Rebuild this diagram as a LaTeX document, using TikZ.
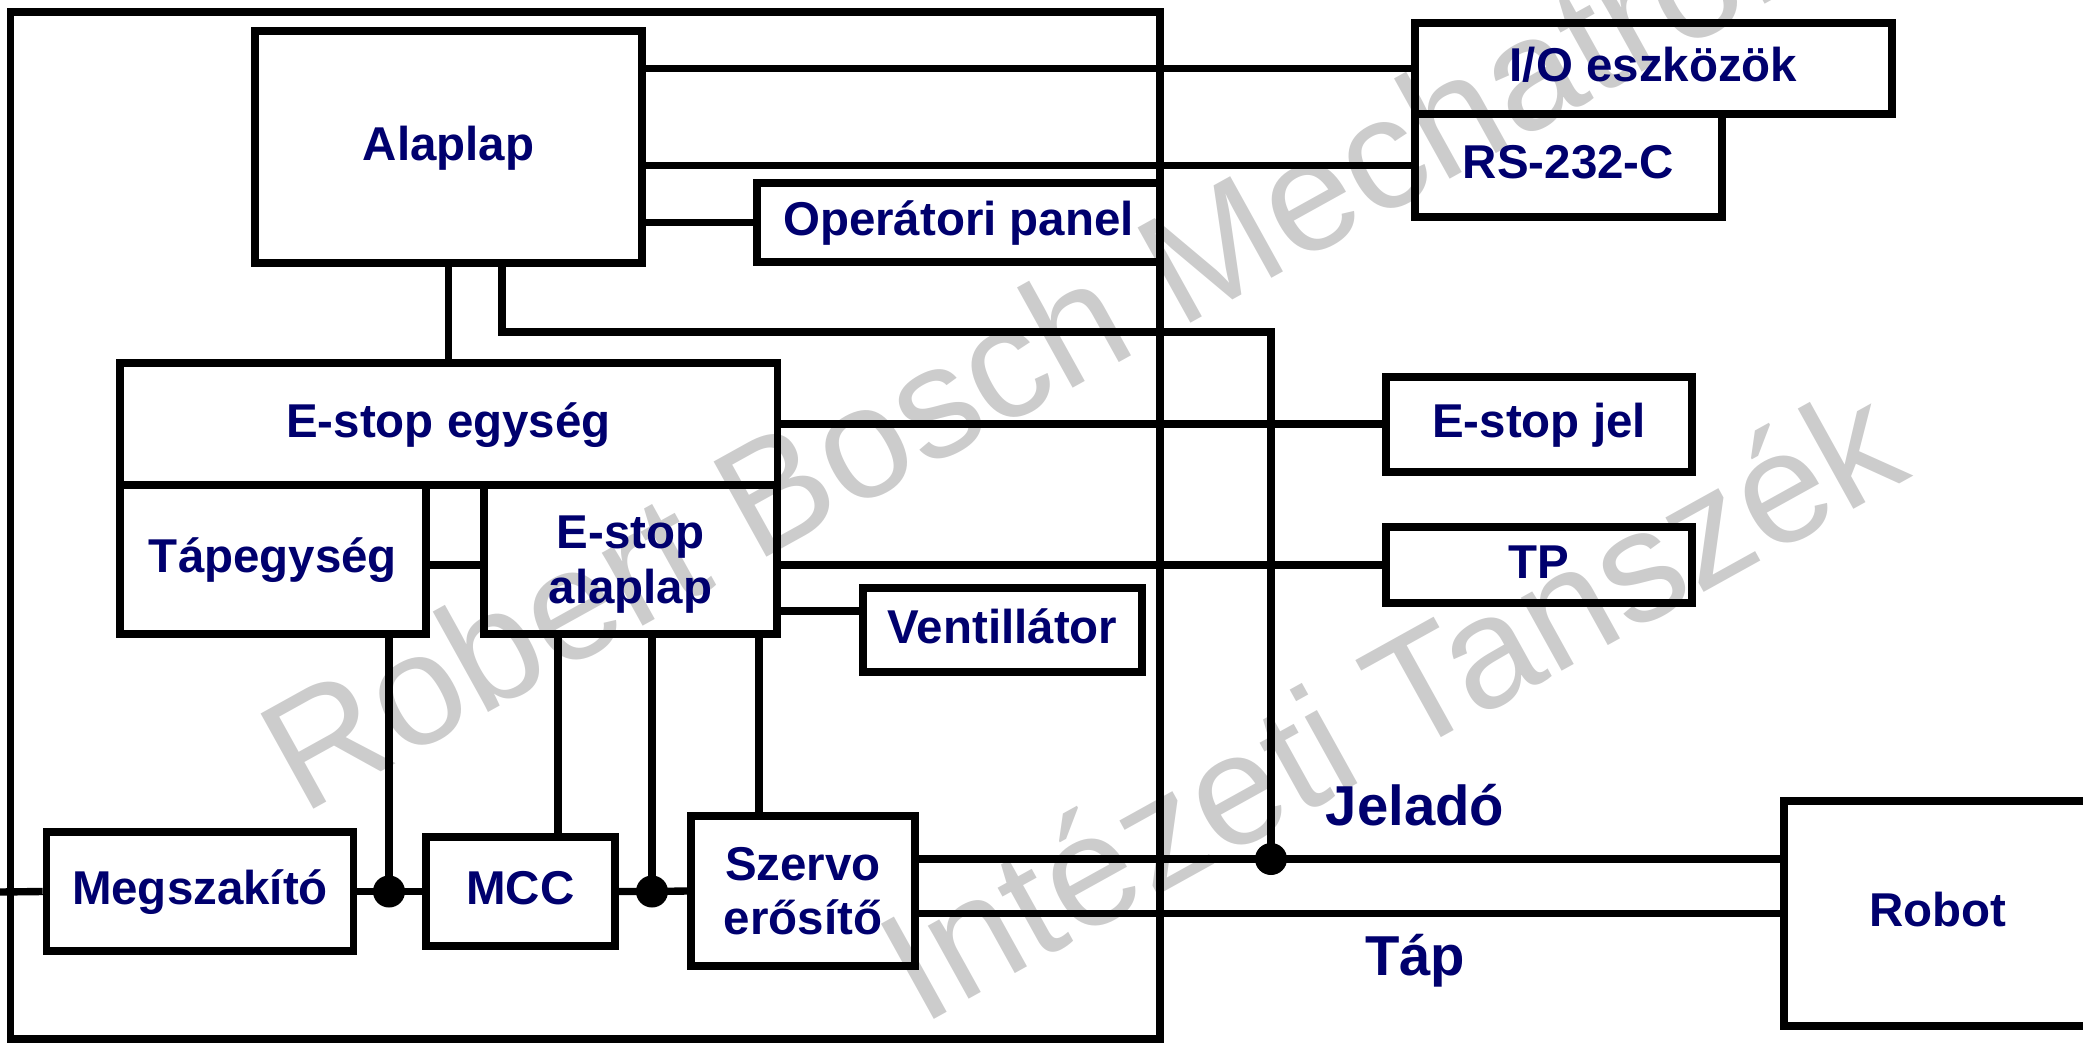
\documentclass[tikz,border=0pt]{standalone}
\usepackage{fontspec}
\setmainfont{Liberation Sans}
\usepackage{xcolor}
\usetikzlibrary{positioning}
\definecolor{navy}{RGB}{0,0,110}
\definecolor{wmgray}{RGB}{204,204,204}

\begin{document}
\begin{tikzpicture}[x=0.01cm, y=-0.01cm, line width=2.1pt, font=\fontsize{13.5}{15.5}\selectfont\bfseries]
    % Define styles
    \tikzstyle{unit} = [rectangle, draw=black, inner sep=0pt, align=center, text=navy]
    \tikzstyle{oneline} = [unit, text height=0.97em, text depth=0.21em]
    \tikzstyle{joint} = [circle, fill=black, inner sep=0pt, minimum size=0.32cm]
    \tikzstyle{signal} = [text=navy, text height=0.97em, text depth=0.21em, font=\fontsize{16}{18}\selectfont\bfseries]
    \tikzstyle{watermark} = [text=wmgray, font=\fontsize{45}{47}\selectfont\mdseries, rotate=29, anchor=base west, inner sep=0pt]

    \clip (0,0) rectangle (2083,1043);

    % Watermark
    \node (wm1) [watermark] at (299,817) {Robert Bosch Mechatronikai};
    \node (wm2) [watermark] at (918,1028) {Intézeti Tanszék};

    % Cabinet
    \draw (10.6,12) rectangle (1160,1039);

    % Nodes
    \node (alaplap) [oneline, minimum width=3.87cm, minimum height=2.32cm] at (448.5,147) {Alaplap};
    \node (panel) [oneline, minimum width=4.03cm, minimum height=0.79cm] at (958.5,222.5) {Operátori panel};
    \node (io) [oneline, minimum width=4.77cm, minimum height=0.91cm] at (1653.5,68.5) {I/O eszközök};
    \node (rs) [oneline, minimum width=3.07cm, minimum height=1.03cm] at (1568.5,165.5) {RS-232-C};
    \node (egyseg) [oneline, minimum width=6.57cm, minimum height=1.22cm] at (448.5,424) {E-stop egység};
    \node (tap) [oneline, minimum width=3.06cm, minimum height=1.49cm] at (273,559.5) {Tápegység};
    \node (ealap) [unit, text depth=0pt, minimum width=2.93cm, minimum height=1.49cm] at (630.5,559.5) {E-stop\\alaplap};
    \node (ejel) [oneline, minimum width=3.06cm, minimum height=0.95cm] at (1539,424.5) {E-stop jel};
    \node (tp) [oneline, minimum width=3.06cm, minimum height=0.76cm] at (1539,565) {TP};
    \node (vent) [oneline, minimum width=2.79cm, minimum height=0.84cm] at (1002.5,630) {Ventillátor};
    \node (megsz) [oneline, minimum width=3.07cm, minimum height=1.19cm] at (200,891.5) {Megszakító};
    \node (mcc) [oneline, minimum width=1.89cm, minimum height=1.09cm] at (520.5,891.5) {MCC};
    \node (szervo) [unit, minimum width=2.24cm, minimum height=1.50cm] at (803,891) {Szervo\\erősítő};
    \node (robot) [oneline, minimum width=3.08cm, minimum height=2.25cm] at (1938,913.5) {Robot};

    \node (dot1) [joint] at (389,891.5) {};
    \node (dot2) [joint] at (652,891.5) {};
    \node (jdot) [joint] at (1271,859) {};
    \coordinate (bend) at (502,332);
    \coordinate (feed) at (0,892);

    \node (jelado) [signal] at (1415,812) {Jeladó};
    \node (taplbl) [signal] at (1415,962) {Táp};

    % Lines
    \draw (io.west -| alaplap.east) -- (io.west);
    \draw (rs.west -| alaplap.east) -- (rs.west);
    \draw (panel.west -| alaplap.east) -- (panel.west);
    \draw (alaplap.south) -- (egyseg.north);
    \draw (alaplap.south -| bend) -- (bend) -| (jdot.center);
    \draw (egyseg.east) -- (egyseg.east -| ejel.west);
    \draw (tap.east |- tp) -- (ealap.west |- tp);
    \draw (tp.west -| ealap.east) -- (tp.west);
    \draw ([yshift=0.19cm]vent.west) -- ([yshift=0.19cm]vent.west -| ealap.east);
    \draw (feed) -- (megsz.west);
    \draw (megsz.east) -- (dot1.center) -- (mcc.west);
    \draw (mcc.east) -- (dot2.center) -- (szervo.west);
    \draw (dot1.center) -- (dot1 |- tap.south);
    \draw (dot2.center) -- (dot2 |- ealap.south);
    \draw ([xshift=0.375cm]mcc.north) -- ([xshift=0.375cm]mcc.north |- ealap.south);
    \draw ([xshift=-0.44cm]szervo.north) -- ([xshift=-0.44cm]szervo.north |- ealap.south);
    \draw (szervo.east |- jdot) -- (robot.west |- jdot);
    \draw (szervo.east |- robot.west) -- (robot.west);
\end{tikzpicture}
\end{document}
